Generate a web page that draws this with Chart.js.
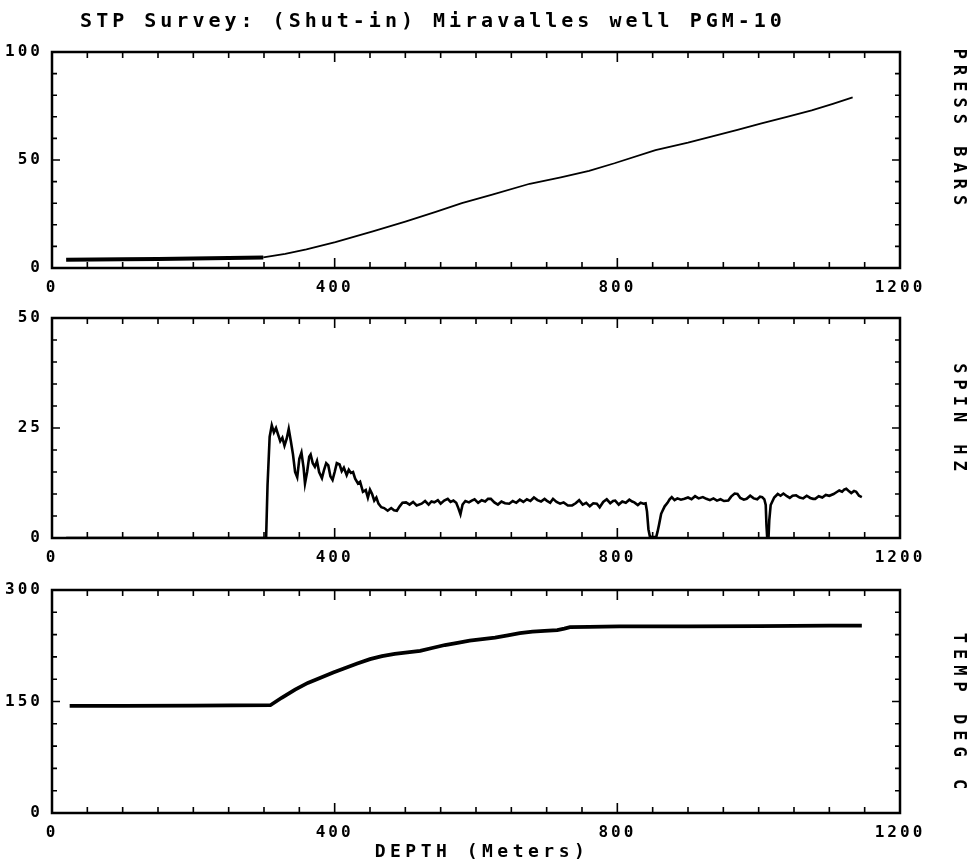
<!DOCTYPE html>
<html>
<head>
<meta charset="utf-8">
<title>STP Survey: (Shut-in) Miravalles well PGM-10</title>
<script src="https://cdn.jsdelivr.net/npm/chart.js"></script>
<style>
  body { margin: 0; background: #fff; }
  .panel { position: absolute; left: 0; width: 976px; }
  #p1 { top: 0; height: 294px; }
  #p2 { top: 294px; height: 270px; }
  #p3 { top: 564px; height: 298px; }
</style>
</head>
<body>
<div class="panel" id="p1"><canvas id="press"></canvas></div>
<div class="panel" id="p2"><canvas id="spin"></canvas></div>
<div class="panel" id="p3"><canvas id="temp"></canvas></div>
<script>
// depth in metres for every trace
const depthTicks = [0, 400, 800, 1200];

// pressure log (bars)
const pressDepth = [20, 60, 100, 150, 200, 250, 299, 330, 360, 401, 454, 500, 543, 580, 623, 676, 720, 760, 796, 854, 900, 933, 970, 1004, 1040, 1075, 1105, 1133];
const pressBars  = [3.8, 3.9, 4.0, 4.2, 4.4, 4.6, 4.9, 6.5, 8.6, 12, 17, 21.5, 26, 30, 34, 39, 42, 45, 48.5, 54.6, 58, 60.8, 64, 67, 70, 73, 76, 79];

// spinner log (Hz)
const spinDepth = [
  20, 303, 305, 308, 311, 314, 317, 320, 323, 326, 329, 332, 335, 338, 341, 344, 347, 350, 353, 356,
  358, 361, 364, 366, 369, 372, 375, 378, 382, 385, 388, 391, 394, 397, 400, 403, 407, 410, 413, 417,
  420, 423, 426, 429, 433, 436, 440, 444, 447, 450, 453, 456, 459, 462, 466, 470, 475, 480, 484, 488,
  492, 496, 501, 506, 511, 516, 523, 528, 533, 537, 541, 546, 550, 555, 560, 564, 568, 572, 575, 578,
  581, 585, 590, 594, 598, 603, 608, 613, 617, 621, 626, 631, 636, 641, 647, 652, 657, 662, 667, 672,
  677, 682, 687, 692, 697, 700, 705, 709, 714, 719, 724, 730, 736, 741, 746, 751, 756, 761, 766, 771,
  775, 780, 785, 790, 794, 797, 802, 807, 812, 817, 821, 824, 829, 833, 837, 840, 842, 844, 846, 849,
  855, 857, 859, 862, 864, 867, 871, 874, 877, 881, 885, 890, 895, 900, 905, 910, 915, 921, 926, 931,
  936, 941, 946, 951, 957, 961, 966, 970, 974, 979, 983, 988, 993, 998, 1002, 1005, 1008, 1010, 1011, 1012,
  1014, 1015, 1017, 1019, 1022, 1027, 1031, 1035, 1040, 1044, 1048, 1053, 1058, 1063, 1068, 1073, 1077, 1080, 1085, 1090,
  1095, 1100, 1106, 1110, 1114, 1118, 1121, 1124, 1128, 1131, 1135, 1138, 1142, 1146
];
const spinHz = [
  0, 0, 12, 23, 25.6, 24, 25, 23.5, 22, 22.8, 21, 22.5, 24.8, 22, 19, 15, 13.8, 18, 19.4, 16,
  12.4, 15, 18.5, 19, 17, 16.2, 17.5, 15, 13.6, 15.5, 17, 16.5, 14, 13.2, 15, 17, 16.7, 15.2, 16, 14.3,
  15.5, 14.8, 15, 13.5, 12.4, 12.8, 10.5, 10.9, 9.2, 11, 10, 8.5, 9.2, 7.8, 7, 6.8, 6.2, 6.8, 6.3, 6.2,
  7.2, 8, 8.1, 7.6, 8.2, 7.4, 7.8, 8.4, 7.6, 8.3, 8.1, 8.6, 7.8, 8.5, 8.9, 8.2, 8.5, 8.0, 6.8, 5.4,
  7.6, 8.4, 8.1, 8.5, 8.8, 8.0, 8.6, 8.3, 8.9, 8.9, 8.1, 7.6, 8.3, 7.9, 7.8, 8.4, 8.0, 8.7, 8.2, 8.8,
  8.4, 9.2, 8.6, 8.3, 8.9, 8.5, 8.0, 8.9, 8.2, 7.8, 8.1, 7.4, 7.4, 7.9, 8.6, 7.6, 8.0, 7.2, 7.9, 7.8,
  7.0, 8.2, 8.8, 7.9, 8.4, 8.5, 7.6, 8.3, 8.0, 8.7, 8.3, 8.1, 7.5, 8.0, 7.8, 7.9, 6.0, 2.0, 0.4, 0.2,
  0.2, 1.5, 3.0, 5.5, 6.2, 7.2, 8.0, 8.8, 9.3, 8.6, 9.0, 8.7, 8.9, 9.2, 8.8, 9.5, 9.0, 9.3, 8.9, 8.6,
  9.0, 8.5, 8.8, 8.4, 8.5, 9.4, 10.1, 10.0, 9.1, 8.7, 8.9, 9.6, 9.0, 8.8, 9.4, 9.3, 8.8, 7.5, 3.0, 0.3,
  0.3, 4.0, 7.5, 8.2, 9.2, 10.0, 9.6, 10.1, 9.5, 9.1, 9.6, 9.7, 9.2, 9.0, 9.6, 9.1, 8.9, 8.9, 9.5, 9.2,
  9.8, 9.6, 10.0, 10.4, 10.8, 10.5, 11.0, 11.2, 10.6, 10.2, 10.7, 10.5, 9.6, 9.3
];

// temperature log (deg C)
const tempDepth = [25, 100, 200, 309, 325, 344, 362, 380, 398, 415, 432, 450, 467, 485, 503, 521, 538, 556, 574, 591, 609, 627, 645, 662, 680, 697, 715, 725, 733, 760, 803, 900, 1000, 1100, 1146];
const tempC     = [144, 144, 144.5, 145, 155, 166, 175, 182, 189, 195, 201, 207, 211, 214, 216, 218, 222, 226, 229, 232, 234, 236, 239, 242, 244, 245, 246, 248, 250, 250.5, 251, 251, 251.5, 252, 252];

const FONT = '"DejaVu Sans Mono", monospace';

// box frame + inward tick marks, like the old pen-plotter output
const plotFrame = {
  id: 'plotFrame',
  beforeDraw(chart) {
    // wide plotter lettering for the axis numbers
    chart.ctx.letterSpacing = '3px';
  },
  afterDatasetsDraw(chart) {
    const { ctx, chartArea: a, scales: { x, y } } = chart;
    ctx.save();
    ctx.strokeStyle = '#000';
    ctx.lineWidth = 2.5;
    ctx.strokeRect(a.left, a.top, a.right - a.left, a.bottom - a.top);
    ctx.lineWidth = 1.6;
    ctx.beginPath();
    for (let d = 50; d < 1200; d += 50) {
      const px = x.getPixelForValue(d);
      const len = d % 400 === 0 ? 10 : 6;
      ctx.moveTo(px, a.top); ctx.lineTo(px, a.top + len);
      ctx.moveTo(px, a.bottom); ctx.lineTo(px, a.bottom - len);
    }
    const step = (y.max - y.min) / 10;
    for (let i = 1; i < 10; i++) {
      const py = y.getPixelForValue(y.min + i * step);
      const len = i === 5 ? 8 : 5;
      ctx.moveTo(a.left, py); ctx.lineTo(a.left + len, py);
      ctx.moveTo(a.right, py); ctx.lineTo(a.right - len, py);
    }
    ctx.stroke();
    ctx.restore();
  }
};

// header line, depth caption and the rotated curve name at the right
const plotterText = {
  id: 'plotterText',
  afterDraw(chart, args, opts) {
    const { ctx, chartArea: a } = chart;
    ctx.save();
    ctx.fillStyle = '#000';
    ctx.textAlign = 'center';
    ctx.textBaseline = 'middle';
    if (opts.header) {
      ctx.font = 'bold 20px ' + FONT;
      ctx.letterSpacing = '4px';
      ctx.fillText(opts.header, 433, 22);
    }
    if (opts.caption) {
      ctx.font = 'bold 18px ' + FONT;
      ctx.letterSpacing = '4.5px';
      ctx.fillText(opts.caption, 482, a.bottom + 39);
    }
    if (opts.side) {
      ctx.font = 'bold 17px ' + FONT;
      ctx.letterSpacing = '6px';
      ctx.translate(958, opts.sideY);
      ctx.rotate(Math.PI / 2);
      ctx.fillText(opts.side, 0, 0);
    }
    ctx.restore();
  }
};

function makePanel(canvasId, xs, ys, opt) {
  const points = xs.map((d, i) => ({ x: d, y: ys[i] }));
  const tickFont = { family: FONT, size: 16, weight: 'bold' };
  return new Chart(document.getElementById(canvasId), {
    type: 'line',
    data: {
      datasets: [{
        data: points,
        borderColor: '#000',
        borderWidth: opt.lineWidth,
        pointRadius: 0,
        tension: 0,
        segment: opt.segment || {}
      }]
    },
    options: {
      responsive: true,
      maintainAspectRatio: false,
      animation: false,
      layout: { padding: { top: opt.padTop, right: 76 } },
      plugins: {
        legend: { display: false },
        tooltip: { enabled: false },
        plotterText: { header: opt.header, caption: opt.caption, side: opt.side, sideY: opt.sideY }
      },
      scales: {
        x: {
          type: 'linear',
          min: depthTicks[0],
          max: depthTicks[depthTicks.length - 1],
          afterBuildTicks: s => { s.ticks = depthTicks.map(v => ({ value: v })); },
          grid: { display: false },
          border: { display: false },
          ticks: { color: '#000', font: tickFont, padding: 2, maxRotation: 0, callback: v => String(v) },
          afterFit: s => { s.height = opt.xHeight; }
        },
        y: {
          min: opt.yTicks[0],
          max: opt.yTicks[opt.yTicks.length - 1],
          afterBuildTicks: s => { s.ticks = opt.yTicks.map(v => ({ value: v })); },
          grid: { display: false },
          border: { display: false },
          ticks: { color: '#000', font: tickFont, padding: 1, callback: v => String(v) },
          afterFit: s => { s.width = 52; }
        }
      }
    },
    plugins: [plotFrame, plotterText]
  });
}

makePanel('press', pressDepth, pressBars, {
  yTicks: [0, 50, 100],
  lineWidth: 1.8,
  segment: { borderWidth: ctx => ctx.p0.parsed.x < 299 ? 4 : 1.8 },
  padTop: 52,
  xHeight: 26,
  header: 'STP Survey: (Shut-in) Miravalles well PGM-10',
  side: 'PRESS BARS',
  sideY: 130
});

makePanel('spin', spinDepth, spinHz, {
  yTicks: [0, 25, 50],
  lineWidth: 2.6,
  padTop: 24,
  xHeight: 26,
  side: 'SPIN HZ',
  sideY: 126
});

makePanel('temp', tempDepth, tempC, {
  yTicks: [0, 150, 300],
  lineWidth: 3.8,
  padTop: 26,
  xHeight: 49,
  caption: 'DEPTH (Meters)',
  side: 'TEMP DEG C',
  sideY: 150
});
</script>
</body>
</html>
